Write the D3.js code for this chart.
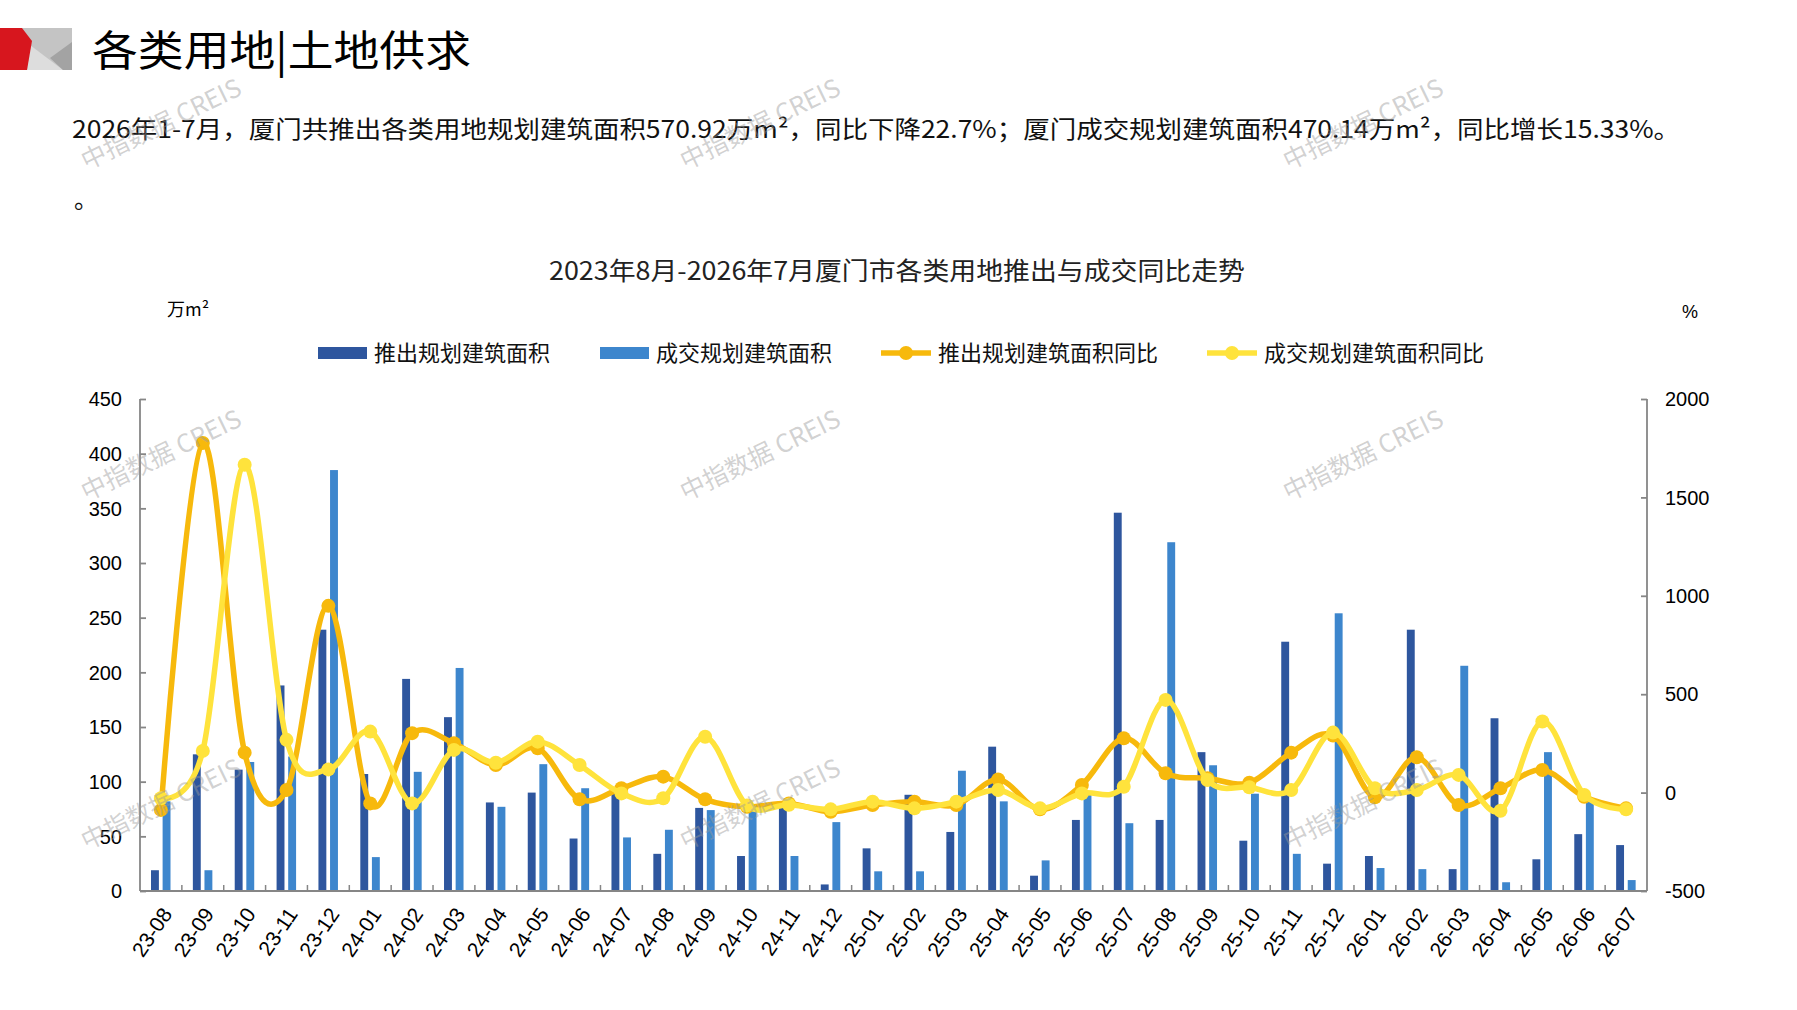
<!DOCTYPE html>
<html>
<head>
<meta charset="utf-8">
<script src="https://cdn.jsdelivr.net/npm/d3@7"></script>
<style>
  html, body { margin: 0; padding: 0; background: #fff; }
  svg { display: block; }
</style>
</head>
<body>
<script>
// months on the x axis
const months = [
  "23-08", "23-09", "23-10", "23-11", "23-12",
  "24-01", "24-02", "24-03", "24-04", "24-05", "24-06", "24-07",
  "24-08", "24-09", "24-10", "24-11", "24-12",
  "25-01", "25-02", "25-03", "25-04", "25-05", "25-06", "25-07",
  "25-08", "25-09", "25-10", "25-11", "25-12",
  "26-01", "26-02", "26-03", "26-04", "26-05", "26-06", "26-07",
];

// 推出规划建筑面积 (万m²)
const pushArea = [
  19, 125, 111, 188, 239, 107, 194, 159, 81, 90, 48, 93,
  34, 76, 32, 79, 6, 39, 88, 54, 132, 14, 65, 346,
  65, 127, 46, 228, 25, 32, 239, 20, 158, 29, 52, 42,
];
// 成交规划建筑面积 (万m²)
const dealArea = [
  82, 19, 118, 123, 385, 31, 109, 204, 77, 116, 94, 49,
  56, 74, 73, 32, 63, 18, 18, 110, 82, 28, 90, 62,
  319, 115, 89, 34, 254, 21, 20, 206, 8, 127, 82, 10,
];
// 推出规划建筑面积同比 (%)
const pushYoy = [
  -88, 1777, 203, 13, 949, -55, 302, 251, 140, 225, -34, 22,
  81, -34, -72, -55, -97, -63, -46, -63, 67, -85, 39, 276,
  98, 73, 50, 203, 290, -24, 180, -63, 22, 115, -21, -80,
];
// 成交规划建筑面积同比 (%)
const dealYoy = [
  -29, 212, 1666, 268, 118, 310, -55, 217, 152, 259, 140, -4,
  -29, 284, -65, -62, -85, -46, -80, -46, 13, -80, -4, 30,
  471, 64, 27, 13, 305, 22, 13, 90, -92, 361, -12, -85,
];

const leftTicks = [0, 50, 100, 150, 200, 250, 300, 350, 400, 450];
const rightTicks = [-500, 0, 500, 1000, 1500, 2000];

const seriesNames = ["推出规划建筑面积", "成交规划建筑面积", "推出规划建筑面积同比", "成交规划建筑面积同比"];
const colors = ["#2E569E", "#3D86CD", "#F7B90C", "#FFE33C"];

const W = 1797, H = 1010;
const plot = { left: 140, right: 1647, top: 399, bottom: 891 };
const cjk = "'Noto Sans CJK SC', sans-serif";
const latin = "'Liberation Sans', Arial, sans-serif";

const svg = d3.select("body").append("svg")
  .attr("width", W).attr("height", H)
  .style("background", "#fff");

// ---- header ----
svg.append("polygon").attr("points", "22,28 72,28 72,70 22,70").attr("fill", "#c4c4c4");
svg.append("polygon").attr("points", "30,45 27,70 63,70").attr("fill", "#dddddd");
svg.append("polygon").attr("points", "72,42 72,70 63,70 50,58").attr("fill", "#a3a3a3");
svg.append("polygon").attr("points", "0,28 22,28 32,41 27,70 0,70").attr("fill", "#D7161E");

svg.append("text")
  .attr("x", 92).attr("y", 66)
  .attr("font-family", cjk).attr("font-size", 42)
  .attr("textLength", 379).attr("lengthAdjust", "spacingAndGlyphs")
  .attr("fill", "#000")
  .text("各类用地|土地供求");

svg.append("text")
  .attr("x", 72).attr("y", 138)
  .attr("font-family", cjk).attr("font-size", 24)
  .attr("textLength", 1608).attr("lengthAdjust", "spacingAndGlyphs")
  .attr("fill", "#111")
  .text("2026年1-7月，厦门共推出各类用地规划建筑面积570.92万m²，同比下降22.7%；厦门成交规划建筑面积470.14万m²，同比增长15.33%。");

svg.append("text")
  .attr("x", 74).attr("y", 208)
  .attr("font-family", cjk).attr("font-size", 24)
  .attr("fill", "#111")
  .text("。");

// chart title
svg.append("text")
  .attr("x", 897).attr("y", 280)
  .attr("text-anchor", "middle")
  .attr("font-family", cjk).attr("font-size", 25)
  .attr("textLength", 696).attr("lengthAdjust", "spacingAndGlyphs")
  .attr("fill", "#222")
  .text("2023年8月-2026年7月厦门市各类用地推出与成交同比走势");

svg.append("text")
  .attr("x", 167).attr("y", 316)
  .attr("font-family", cjk).attr("font-size", 18).attr("fill", "#000")
  .text("万m²");
svg.append("text")
  .attr("x", 1690).attr("y", 318)
  .attr("text-anchor", "middle")
  .attr("font-family", latin).attr("font-size", 18).attr("fill", "#000")
  .text("%");

// ---- legend ----
const legendX = [318, 600, 881, 1207];
const legend = svg.append("g").selectAll("g")
  .data(seriesNames)
  .join("g")
  .attr("transform", (d, i) => `translate(${legendX[i]},353)`);

legend.filter((d, i) => i < 2).append("rect")
  .attr("x", 0).attr("y", -6).attr("width", 49).attr("height", 12)
  .attr("fill", (d, i) => colors[i]);
legend.filter((d, i) => i >= 2).append("line")
  .attr("x1", 0).attr("x2", 50).attr("y1", 0).attr("y2", 0)
  .attr("stroke", (d, i) => colors[i + 2]).attr("stroke-width", 5.5);
legend.filter((d, i) => i >= 2).append("circle")
  .attr("cx", 25).attr("cy", 0).attr("r", 7)
  .attr("fill", (d, i) => colors[i + 2]);
legend.append("text")
  .attr("x", (d, i) => (i < 2 ? 56 : 57))
  .attr("y", 0).attr("dy", "0.36em")
  .attr("font-family", cjk).attr("font-size", 22).attr("fill", "#111")
  .text((d) => d);

// ---- scales ----
const x = d3.scaleBand().domain(months).range([plot.left, plot.right]);
const xInner = d3.scaleBand().domain(["push", "deal"])
  .range([11, 30.5]).paddingInner(0.32);
const yL = d3.scaleLinear().domain([0, 450]).range([plot.bottom, plot.top]);
const yR = d3.scaleLinear().domain([-500, 2000]).range([plot.bottom, plot.top]);

// ---- bars ----
const bars = svg.append("g");
bars.selectAll("rect.push")
  .data(pushArea)
  .join("rect")
  .attr("class", "push")
  .attr("x", (d, i) => x(months[i]) + xInner("push"))
  .attr("width", xInner.bandwidth())
  .attr("y", (d) => yL(d))
  .attr("height", (d) => yL(0) - yL(d))
  .attr("fill", colors[0]);
bars.selectAll("rect.deal")
  .data(dealArea)
  .join("rect")
  .attr("class", "deal")
  .attr("x", (d, i) => x(months[i]) + xInner("deal"))
  .attr("width", xInner.bandwidth())
  .attr("y", (d) => yL(d))
  .attr("height", (d) => yL(0) - yL(d))
  .attr("fill", colors[1]);

// ---- axes ----
const axisColor = "#868686";
const axL = svg.append("g")
  .attr("transform", `translate(${plot.left},0)`)
  .call(d3.axisRight(yL).tickValues(leftTicks).tickSize(6).tickFormat(""));
const axR = svg.append("g")
  .attr("transform", `translate(${plot.right},0)`)
  .call(d3.axisLeft(yR).tickValues(rightTicks).tickSize(6).tickFormat(""));

[axL, axR].forEach((g) => {
  g.selectAll("line").attr("stroke", axisColor).attr("stroke-width", 1.8);
  g.select("path.domain").remove();
});
// category boundary ticks
svg.append("g").selectAll("line")
  .data(months.slice(1))
  .join("line")
  .attr("x1", (d) => x(d)).attr("x2", (d) => x(d))
  .attr("y1", plot.bottom).attr("y2", plot.bottom - 6)
  .attr("stroke", axisColor).attr("stroke-width", 1.5);

svg.append("line")
  .attr("x1", plot.left).attr("x2", plot.left)
  .attr("y1", plot.top).attr("y2", plot.bottom)
  .attr("stroke", axisColor).attr("stroke-width", 1.8);
svg.append("line")
  .attr("x1", plot.right).attr("x2", plot.right)
  .attr("y1", plot.top).attr("y2", plot.bottom)
  .attr("stroke", axisColor).attr("stroke-width", 1.8);
svg.append("line")
  .attr("x1", plot.left).attr("x2", plot.right)
  .attr("y1", plot.bottom).attr("y2", plot.bottom)
  .attr("stroke", axisColor).attr("stroke-width", 1.8);

svg.append("g").selectAll("text")
  .data(leftTicks)
  .join("text")
  .attr("x", 122).attr("y", (d) => yL(d)).attr("dy", "0.36em")
  .attr("text-anchor", "end")
  .attr("font-family", latin).attr("font-size", 20).attr("fill", "#000")
  .text((d) => d);
svg.append("g").selectAll("text")
  .data(rightTicks)
  .join("text")
  .attr("x", 1665).attr("y", (d) => yR(d)).attr("dy", "0.36em")
  .attr("font-family", latin).attr("font-size", 20).attr("fill", "#000")
  .text((d) => d);

// x labels, slanted
svg.append("g").selectAll("text")
  .data(months)
  .join("text")
  .attr("transform", (d) => `translate(${x(d) + x.bandwidth() / 2 + 12},${plot.bottom + 23}) rotate(-56)`)
  .attr("text-anchor", "end")
  .attr("font-family", latin).attr("font-size", 21).attr("fill", "#000")
  .text((d) => d);

// ---- lines ----
const cx = (i) => x(months[i]) + x.bandwidth() / 2;
const line = d3.line()
  .x((d, i) => cx(i))
  .y((d) => yR(d))
  .curve(d3.curveCardinal.tension(0));

[pushYoy, dealYoy].forEach((series, k) => {
  const g = svg.append("g");
  g.append("path")
    .datum(series)
    .attr("d", line)
    .attr("fill", "none")
    .attr("stroke", colors[k + 2])
    .attr("stroke-width", 5.5);
  g.selectAll("circle")
    .data(series)
    .join("circle")
    .attr("cx", (d, i) => cx(i))
    .attr("cy", (d) => yR(d))
    .attr("r", 7)
    .attr("fill", colors[k + 2]);
});

// ---- watermarks ----
const wmX = [161, 760, 1363];
const wmY = [124, 455, 804];
const wm = svg.append("g").attr("pointer-events", "none");
wmY.forEach((yy) => {
  wmX.forEach((xx) => {
    wm.append("text")
      .attr("transform", `translate(${xx},${yy}) rotate(-26)`)
      .attr("text-anchor", "middle").attr("dy", "0.36em")
      .attr("font-family", cjk).attr("font-size", 25)
      .attr("fill", "#9a9a9a").attr("fill-opacity", 0.45)
      .text("中指数据 CREIS");
  });
});
</script>
</body>
</html>
